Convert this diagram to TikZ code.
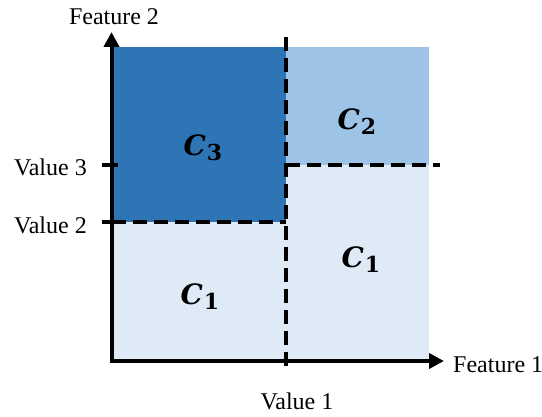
\documentclass[tikz,border=0pt]{standalone}
\usepackage{fontspec}
\setmainfont{Liberation Serif}
\newfontfamily\clsfont{DejaVu Serif}
\usetikzlibrary{arrows.meta}
\definecolor{cdark}{HTML}{2E75B6}
\definecolor{cmid}{HTML}{9DC3E6}
\definecolor{clight}{HTML}{DEEBF7}
\newcommand{\clsname}[1]{{\clsfont\bfseries\itshape C}\kern1pt\raisebox{-5pt}{\clsfont\bfseries\fontsize{22}{24}\selectfont #1}}
\tikzset{
  axis/.style={line width=4pt,-{Triangle[length=15pt,width=15pt]}},
  split/.style={line width=4.2pt,dash pattern=on 14pt off 7pt},
  tick/.style={line width=4pt},
  lbl/.style={font=\fontsize{24}{28}\selectfont,inner sep=0pt},
  cls/.style={font=\fontsize{28}{32}\selectfont,inner sep=0pt}
}
\begin{document}
\begin{tikzpicture}[x=1pt,y=-1pt]
\useasboundingbox (0,0) rectangle (542,417);
% regions
\fill[clight] (112,47) rectangle (429,359);
\fill[cdark] (112,47) rectangle (286,222);
\fill[cmid] (286,47) rectangle (429,165);
% coordinates
\coordinate (ytip) at (111.5,32);
\coordinate (xtip) at (444,361);
\coordinate (v1top) at (286,37);
\coordinate (v1bot) at (286,372);
\coordinate (v3l) at (102,165);
\coordinate (v3r) at (440,165);
\coordinate (v3m) at (286,165);
\coordinate (v2l) at (102,222);
\coordinate (v2r) at (286,222);
% splits
\draw[split] (v1top) -- (v1bot);
\draw[split] (v3m) -- (v3r);
\draw[split] (111.5,222) -- (v2r);
% ticks
\draw[tick] (v3l) -- (118,165);
\draw[tick] (v2l) -- (118,222);
% axes
\draw[axis] (111.5,363) -- (ytip);
\draw[axis] (109.5,361) -- (xtip);
% labels
\node[lbl] (f2) at (114,17) {Feature 2};
\node[lbl,anchor=west] (f1) at (453,365) {Feature 1};
\node[lbl,anchor=east] (val3) at (87,167) {Value 3};
\node[lbl,anchor=east] (val2) at (87,225) {Value 2};
\node[lbl] (val1) at (297,401) {Value 1};
\node[cls] (c3) at (203,148) {\clsname{3}};
\node[cls] (c2) at (357,122) {\clsname{2}};
\node[cls] (c1a) at (361,260) {\clsname{1}};
\node[cls] (c1b) at (200,297) {\clsname{1}};
\end{tikzpicture}
\end{document}
